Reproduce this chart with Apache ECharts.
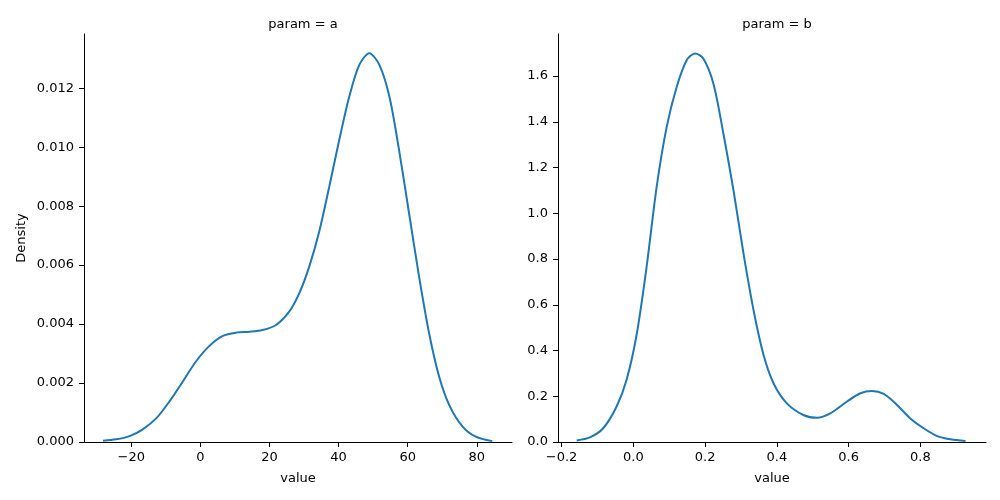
<!DOCTYPE html>
<html>
<head>
<meta charset="utf-8">
<script src="https://cdn.jsdelivr.net/npm/echarts@6/dist/echarts.min.js"></script>
<style>
  html, body { margin: 0; padding: 0; background: #fff; }
  #chart { width: 1000px; height: 500px; }
</style>
</head>
<body>
<div id="chart"></div>
<script>
// param = a : kde curve (value, density)
const aValues = [-28.2, -24.4, -20.5, -16.7, -12.8, -9.0, -5.1, -1.3, 2.6, 6.5, 10.3, 14.2, 18.0, 21.9, 25.7, 28.6, 31.5, 34.4, 37.3, 40.2, 43.1, 46.0, 48.9, 51.8, 54.7, 57.5, 60.4, 63.3, 66.2, 69.1, 72.0, 75.9, 79.7, 84.5]
const aDensity = [0.000045, 0.00009, 0.0002, 0.00043, 0.0008, 0.00137, 0.00205, 0.00273, 0.00326, 0.0036, 0.00371, 0.00374, 0.0038, 0.00397, 0.00442, 0.00504, 0.00595, 0.00714, 0.00866, 0.01025, 0.01172, 0.01279, 0.01319, 0.01279, 0.01172, 0.00991, 0.00776, 0.00561, 0.00369, 0.00222, 0.00126, 0.00052, 0.00018, 0.00003]
// param = b
const bValues = [-0.158, -0.121, -0.084, -0.047, -0.019, 0.009, 0.037, 0.065, 0.093, 0.121, 0.149, 0.172, 0.195, 0.223, 0.251, 0.279, 0.307, 0.335, 0.363, 0.391, 0.428, 0.474, 0.512, 0.549, 0.595, 0.633, 0.665, 0.698, 0.735, 0.772, 0.809, 0.847, 0.884, 0.926]
const bDensity = [0.007, 0.02, 0.06, 0.154, 0.271, 0.468, 0.766, 1.116, 1.378, 1.553, 1.67, 1.699, 1.677, 1.568, 1.349, 1.102, 0.825, 0.577, 0.38, 0.256, 0.169, 0.118, 0.106, 0.125, 0.176, 0.213, 0.223, 0.21, 0.162, 0.103, 0.06, 0.026, 0.012, 0.004]

const aXTicks = [-20, 0, 20, 40, 60, 80]
const aYTicks = [0, 0.002, 0.004, 0.006, 0.008, 0.010, 0.012]
const bXTicks = [-0.2, 0, 0.2, 0.4, 0.6, 0.8]
const bYTicks = [0, 0.2, 0.4, 0.6, 0.8, 1.0, 1.2, 1.4, 1.6]

const font = 'DejaVu Sans'
const minus = s => s.replace('-', '\u2212')

function xAxis(idx, min, max, ticks, fmt) {
  return {
    type: 'value',
    gridIndex: idx,
    min: min,
    max: max,
    name: 'value',
    nameLocation: 'middle',
    nameGap: 30,
    nameTextStyle: { color: '#000', fontSize: 13, fontFamily: font },
    axisLine: { show: true, onZero: false, lineStyle: { color: '#000', width: 1 } },
    axisTick: { show: true, length: 5, customValues: ticks, lineStyle: { color: '#000' } },
    axisLabel: { customValues: ticks, margin: 9, color: '#000', fontSize: 13, fontFamily: font, formatter: v => minus(fmt(v)) },
    splitLine: { show: false }
  }
}

function yAxis(idx, max, ticks, fmt, name) {
  return {
    type: 'value',
    gridIndex: idx,
    min: 0,
    max: max,
    name: name,
    nameLocation: 'middle',
    nameGap: 56,
    nameTextStyle: { color: '#000', fontSize: 13, fontFamily: font },
    axisLine: { show: true, onZero: false, lineStyle: { color: '#000', width: 1 } },
    axisTick: { show: true, length: 5, customValues: ticks, lineStyle: { color: '#000' } },
    axisLabel: { customValues: ticks, margin: 10, color: '#000', fontSize: 13, fontFamily: font, formatter: v => fmt(v) },
    splitLine: { show: false }
  }
}

const option = {
  animation: false,
  backgroundColor: '#fff',
  title: [
    { text: 'param = a', left: 298, top: 13, textAlign: 'center', textStyle: { fontSize: 13, fontWeight: 'normal', color: '#000', fontFamily: font } },
    { text: 'param = b', left: 772, top: 13, textAlign: 'center', textStyle: { fontSize: 13, fontWeight: 'normal', color: '#000', fontFamily: font } }
  ],
  grid: [
    { left: 84, top: 34, width: 428, height: 408 },
    { left: 558, top: 34, width: 428, height: 408 }
  ],
  xAxis: [
    xAxis(0, -33.7, 90.2, aXTicks, v => String(Math.round(v))),
    xAxis(1, -0.21, 0.983, bXTicks, v => v.toFixed(1))
  ],
  yAxis: [
    yAxis(0, 0.01384, aYTicks, v => v.toFixed(3), 'Density'),
    yAxis(1, 1.784, bYTicks, v => v.toFixed(1), '')
  ],
  series: [
    {
      type: 'line',
      xAxisIndex: 0,
      yAxisIndex: 0,
      data: aValues.map((v, i) => [v, aDensity[i]]),
      smooth: 0.3,
      showSymbol: false,
      lineStyle: { color: '#1f77b4', width: 2 }
    },
    {
      type: 'line',
      xAxisIndex: 1,
      yAxisIndex: 1,
      data: bValues.map((v, i) => [v, bDensity[i]]),
      smooth: 0.3,
      showSymbol: false,
      lineStyle: { color: '#1f77b4', width: 2 }
    }
  ]
}

const myChart = echarts.init(document.getElementById('chart'))
myChart.setOption(option)
</script>
</body>
</html>
